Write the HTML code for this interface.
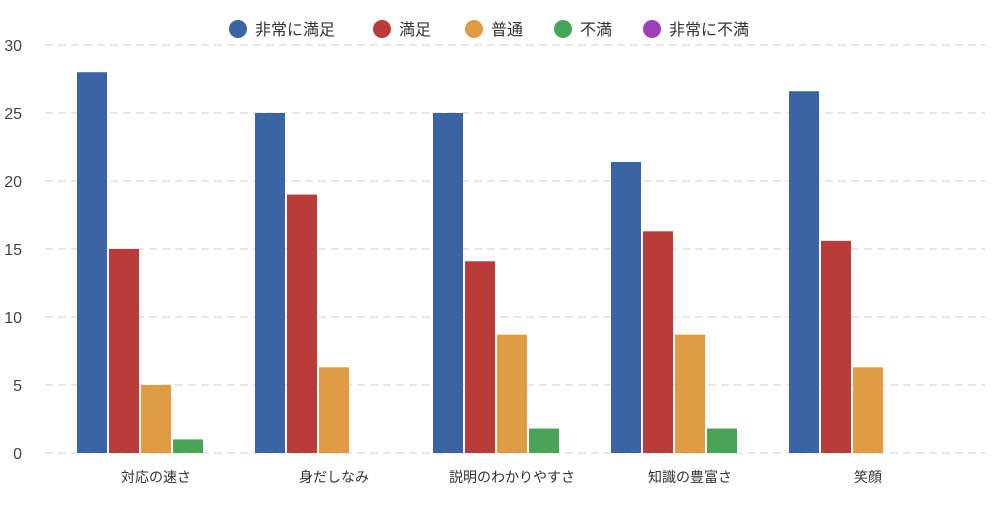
<!DOCTYPE html>
<html><head><meta charset="utf-8"><style>
body{margin:0;background:#fff;}
svg text{font-family:"Liberation Sans","Noto Sans CJK JP",sans-serif;}
</style></head><body>
<svg id="chart" width="1000" height="500" xmlns="http://www.w3.org/2000/svg"></svg>
<script>
const categories=["対応の速さ","身だしなみ","説明のわかりやすさ","知識の豊富さ","笑顔"];
const seriesNames=["非常に満足","満足","普通","不満","非常に不満"];
const seriesColors=["#3a64a3","#b93c3a","#e09c42","#4aa457","#a040b8"];
const s0=[28,25,25,21.4,26.6];
const s1=[15,19,14.1,16.3,15.6];
const s2=[5,6.3,8.7,8.7,6.3];
const s3=[1,0,1.8,1.8,0];
const s4=[0,0,0,0,0];
const yTicks=[0,5,10,15,20,25,30];
const series=[s0,s1,s2,s3,s4];
const svg=document.getElementById('chart');
const NS="http://www.w3.org/2000/svg";
const y0=453,y1=45,yMax=30;
const yScale=v=>y0-(y0-y1)*v/yMax;
const bandStart=67,bandW=178,barW=30,barGap=2,barOff=10;
function mk(t,a){const e=document.createElementNS(NS,t);for(const k in a)e.setAttribute(k,a[k]);svg.appendChild(e);return e;}
yTicks.forEach(t=>{
 const y=yScale(t);
 const l=mk('line',{x1:45,x2:985,y1:y,y2:y,stroke:'#e0e0e0','stroke-width':1.5,'stroke-dasharray':'8,5'});
 
 
 const tx=mk('text',{x:22,y:y+6,'font-size':16,fill:'#444','text-anchor':'end'});
 tx.textContent=t;
 
 
});
categories.forEach((c,i)=>{
 const bx=bandStart+i*bandW;
 series.forEach((s,j)=>{
  const v=s[i];if(v<=0)return;
  const x=bx+barOff+j*(barW+barGap);
  const r=mk('rect',{x:x,y:yScale(v),width:barW,height:y0-yScale(v),fill:seriesColors[j]});
  
  
 });
 const t=mk('text',{x:bx+89,y:482,'font-size':14,fill:'#333','text-anchor':'middle'});
 t.textContent=c;
 
 
});
const lx=[238,382,474,563,652];
seriesNames.forEach((n,j)=>{
 const c=mk('circle',{cx:lx[j],cy:29,r:9,fill:seriesColors[j]});
 
 
 const t=mk('text',{x:lx[j]+17,y:35,'font-size':16,fill:'#333'});
 t.textContent=n;
 
 
});
</script>
</body></html>
